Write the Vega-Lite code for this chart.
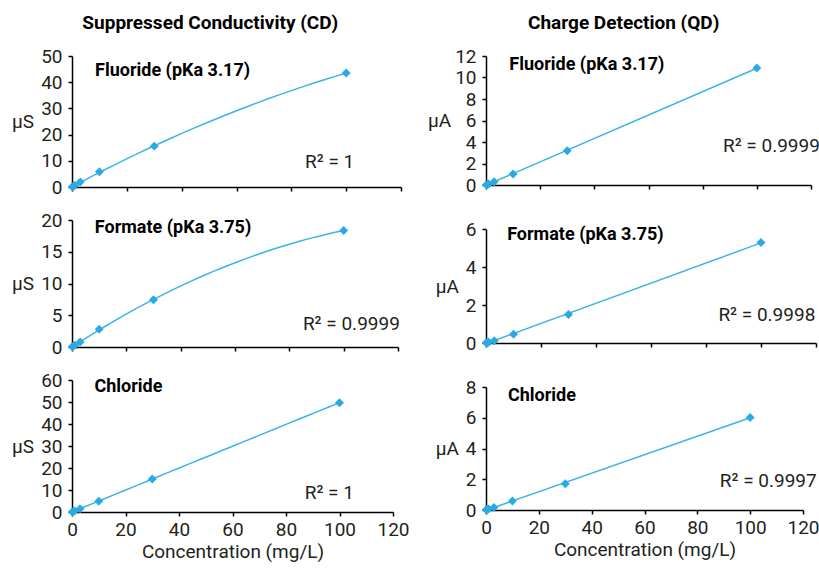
{
  "$schema": "https://vega.github.io/schema/vega-lite/v6.json",
  "background": "white",
  "padding": {"left": 11, "top": 14, "right": 0, "bottom": 5},
  "config": {
    "view": {"stroke": null},
    "font": "Roboto, sans-serif",
    "axis": {
      "grid": false,
      "domainColor": "#000000",
      "domainWidth": 1.5,
      "tickColor": "#000000",
      "tickWidth": 1.5,
      "tickSize": 4,
      "tickCount": 20,
      "labelFont": "Roboto, sans-serif",
      "labelFontSize": 19,
      "labelColor": "#231f20",
      "labelOverlap": false,
      "labelFlush": false,
      "titleFont": "Roboto, sans-serif",
      "titleFontSize": 19,
      "titleFontWeight": "normal",
      "titleColor": "#231f20",
      "labelPadding": 4
    },
    "axisY": {"titleAngle": 0, "titleAlign": "right", "titleBaseline": "middle", "titlePadding": 7, "labelPadding": 6},
    "title": {"font": "Roboto, sans-serif", "fontSize": 19, "fontWeight": "bold", "color": "#000000", "anchor": "middle"}
  },
  "spacing": 17,
  "hconcat": [
    {
      "title": {"text": "Suppressed Conductivity (CD)", "offset": 14},
      "bounds": "flush",
      "spacing": 33,
      "vconcat": [
        {
          "width": 329, "height": 131,
          "data": {"values": [
            {"conc": 0.1, "signal": 0.05}, {"conc": 0.5, "signal": 0.3}, {"conc": 1, "signal": 0.6},
            {"conc": 3, "signal": 1.9}, {"conc": 10, "signal": 5.8}, {"conc": 30, "signal": 15.6}, {"conc": 100, "signal": 43.5}
          ]},
          "layer": [
            {
              "transform": [{"regression": "signal", "on": "conc", "method": "poly", "order": 2}],
              "mark": {"type": "line", "color": "#3cb4e6", "strokeWidth": 1.5},
              "encoding": {
                "x": {"field": "conc", "type": "quantitative", "scale": {"domain": [0, 120], "nice": false}, "axis": {"values": [0, 20, 40, 60, 80, 100, 120], "format": "d", "tickCount": 20, "labels": false, "title": null}},
                "y": {"field": "signal", "type": "quantitative", "scale": {"domain": [0, 50], "nice": false}, "axis": {"values": [0, 10, 20, 30, 40, 50], "format": "d", "tickCount": 20, "title": "µS"}}
              }
            },
            {
              "mark": {"type": "point", "shape": "diamond", "filled": true, "color": "#29abe2", "size": 80, "opacity": 1},
              "encoding": {"x": {"field": "conc", "type": "quantitative"}, "y": {"field": "signal", "type": "quantitative"}}
            },
            {
              "data": {"values": [{"conc": 8.4, "signal": 44.3, "label": "Fluoride (pKa 3.17)"}]},
              "mark": {"type": "text", "align": "left", "baseline": "middle", "fontWeight": "bold", "fontSize": 18, "color": "#000000"},
              "encoding": {"x": {"field": "conc", "type": "quantitative"}, "y": {"field": "signal", "type": "quantitative"}, "text": {"field": "label"}}
            },
            {
              "data": {"values": [{"conc": 85, "signal": 9.5, "label": "R² = 1"}]},
              "mark": {"type": "text", "align": "left", "baseline": "middle", "fontSize": 19, "color": "#231f20"},
              "encoding": {"x": {"field": "conc", "type": "quantitative"}, "y": {"field": "signal", "type": "quantitative"}, "text": {"field": "label"}}
            }
          ]
        },
        {
          "width": 326, "height": 127,
          "data": {"values": [
            {"conc": 0.1, "signal": 0.03}, {"conc": 0.5, "signal": 0.14}, {"conc": 1, "signal": 0.28},
            {"conc": 3, "signal": 0.8}, {"conc": 10, "signal": 2.8}, {"conc": 30, "signal": 7.45}, {"conc": 100, "signal": 18.35}
          ]},
          "layer": [
            {
              "transform": [{"regression": "signal", "on": "conc", "method": "poly", "order": 2}],
              "mark": {"type": "line", "color": "#3cb4e6", "strokeWidth": 1.5},
              "encoding": {
                "x": {"field": "conc", "type": "quantitative", "scale": {"domain": [0, 120], "nice": false}, "axis": {"values": [0, 20, 40, 60, 80, 100, 120], "format": "d", "tickCount": 20, "labels": false, "title": null}},
                "y": {"field": "signal", "type": "quantitative", "scale": {"domain": [0, 20], "nice": false}, "axis": {"values": [0, 5, 10, 15, 20], "format": "d", "tickCount": 20, "title": "µS"}}
              }
            },
            {
              "mark": {"type": "point", "shape": "diamond", "filled": true, "color": "#29abe2", "size": 80, "opacity": 1},
              "encoding": {"x": {"field": "conc", "type": "quantitative"}, "y": {"field": "signal", "type": "quantitative"}}
            },
            {
              "data": {"values": [{"conc": 8.4, "signal": 18.8, "label": "Formate (pKa 3.75)"}]},
              "mark": {"type": "text", "align": "left", "baseline": "middle", "fontWeight": "bold", "fontSize": 18, "color": "#000000"},
              "encoding": {"x": {"field": "conc", "type": "quantitative"}, "y": {"field": "signal", "type": "quantitative"}, "text": {"field": "label"}}
            },
            {
              "data": {"values": [{"conc": 85, "signal": 3.6, "label": "R² = 0.9999"}]},
              "mark": {"type": "text", "align": "left", "baseline": "middle", "fontSize": 19, "color": "#231f20"},
              "encoding": {"x": {"field": "conc", "type": "quantitative"}, "y": {"field": "signal", "type": "quantitative"}, "text": {"field": "label"}}
            }
          ]
        },
        {
          "width": 321, "height": 132,
          "data": {"values": [
            {"conc": 0.1, "signal": 0.05}, {"conc": 0.5, "signal": 0.25}, {"conc": 1, "signal": 0.5},
            {"conc": 3, "signal": 1.5}, {"conc": 10, "signal": 4.9}, {"conc": 30, "signal": 15.0}, {"conc": 100, "signal": 49.7}
          ]},
          "layer": [
            {
              "transform": [{"regression": "signal", "on": "conc", "method": "poly", "order": 2}],
              "mark": {"type": "line", "color": "#3cb4e6", "strokeWidth": 1.5},
              "encoding": {
                "x": {"field": "conc", "type": "quantitative", "scale": {"domain": [0, 120], "nice": false}, "axis": {"values": [0, 20, 40, 60, 80, 100, 120], "format": "d", "tickCount": 20, "title": "Concentration (mg/L)", "titlePadding": 3}},
                "y": {"field": "signal", "type": "quantitative", "scale": {"domain": [0, 60], "nice": false}, "axis": {"values": [0, 10, 20, 30, 40, 50, 60], "format": "d", "tickCount": 20, "title": "µS"}}
              }
            },
            {
              "mark": {"type": "point", "shape": "diamond", "filled": true, "color": "#29abe2", "size": 80, "opacity": 1},
              "encoding": {"x": {"field": "conc", "type": "quantitative"}, "y": {"field": "signal", "type": "quantitative"}}
            },
            {
              "data": {"values": [{"conc": 8.4, "signal": 56.8, "label": "Chloride"}]},
              "mark": {"type": "text", "align": "left", "baseline": "middle", "fontWeight": "bold", "fontSize": 18, "color": "#000000"},
              "encoding": {"x": {"field": "conc", "type": "quantitative"}, "y": {"field": "signal", "type": "quantitative"}, "text": {"field": "label"}}
            },
            {
              "data": {"values": [{"conc": 87, "signal": 8.8, "label": "R² = 1"}]},
              "mark": {"type": "text", "align": "left", "baseline": "middle", "fontSize": 19, "color": "#231f20"},
              "encoding": {"x": {"field": "conc", "type": "quantitative"}, "y": {"field": "signal", "type": "quantitative"}, "text": {"field": "label"}}
            }
          ]
        }
      ]
    },
    {
      "title": {"text": "Charge Detection (QD)", "offset": 14},
      "bounds": "flush",
      "spacing": 44,
      "vconcat": [
        {
          "width": 325, "height": 129,
          "data": {"values": [
            {"conc": 0.1, "signal": 0.01}, {"conc": 0.5, "signal": 0.05}, {"conc": 1, "signal": 0.1},
            {"conc": 3, "signal": 0.31}, {"conc": 10, "signal": 1.03}, {"conc": 30, "signal": 3.18}, {"conc": 100, "signal": 10.88}
          ]},
          "layer": [
            {
              "transform": [{"regression": "signal", "on": "conc", "method": "linear"}],
              "mark": {"type": "line", "color": "#3cb4e6", "strokeWidth": 1.5},
              "encoding": {
                "x": {"field": "conc", "type": "quantitative", "scale": {"domain": [0, 120], "nice": false}, "axis": {"values": [0, 20, 40, 60, 80, 100, 120], "format": "d", "tickCount": 20, "labels": false, "title": null}},
                "y": {"field": "signal", "type": "quantitative", "scale": {"domain": [0, 12], "nice": false}, "axis": {"values": [0, 2, 4, 6, 8, 10, 12], "format": "d", "tickCount": 20, "title": "µA", "titlePadding": 4}}
              }
            },
            {
              "mark": {"type": "point", "shape": "diamond", "filled": true, "color": "#29abe2", "size": 80, "opacity": 1},
              "encoding": {"x": {"field": "conc", "type": "quantitative"}, "y": {"field": "signal", "type": "quantitative"}}
            },
            {
              "data": {"values": [{"conc": 8.6, "signal": 11.2, "label": "Fluoride (pKa 3.17)"}]},
              "mark": {"type": "text", "align": "left", "baseline": "middle", "fontWeight": "bold", "fontSize": 18, "color": "#000000"},
              "encoding": {"x": {"field": "conc", "type": "quantitative"}, "y": {"field": "signal", "type": "quantitative"}, "text": {"field": "label"}}
            },
            {
              "data": {"values": [{"conc": 87.5, "signal": 3.6, "label": "R² = 0.9999"}]},
              "mark": {"type": "text", "align": "left", "baseline": "middle", "fontSize": 19, "color": "#231f20"},
              "encoding": {"x": {"field": "conc", "type": "quantitative"}, "y": {"field": "signal", "type": "quantitative"}, "text": {"field": "label"}}
            }
          ]
        },
        {
          "width": 330, "height": 114,
          "data": {"values": [
            {"conc": 0.1, "signal": 0.01}, {"conc": 0.5, "signal": 0.02}, {"conc": 1, "signal": 0.04},
            {"conc": 3, "signal": 0.12}, {"conc": 10, "signal": 0.46}, {"conc": 30, "signal": 1.5}, {"conc": 100, "signal": 5.29}
          ]},
          "layer": [
            {
              "transform": [{"regression": "signal", "on": "conc", "method": "linear"}],
              "mark": {"type": "line", "color": "#3cb4e6", "strokeWidth": 1.5},
              "encoding": {
                "x": {"field": "conc", "type": "quantitative", "scale": {"domain": [0, 120], "nice": false}, "axis": {"values": [0, 20, 40, 60, 80, 100, 120], "format": "d", "tickCount": 20, "labels": false, "title": null}},
                "y": {"field": "signal", "type": "quantitative", "scale": {"domain": [0, 6], "nice": false}, "axis": {"values": [0, 2, 4, 6], "format": "d", "tickCount": 20, "title": "µA"}}
              }
            },
            {
              "mark": {"type": "point", "shape": "diamond", "filled": true, "color": "#29abe2", "size": 80, "opacity": 1},
              "encoding": {"x": {"field": "conc", "type": "quantitative"}, "y": {"field": "signal", "type": "quantitative"}}
            },
            {
              "data": {"values": [{"conc": 7.7, "signal": 5.7, "label": "Formate (pKa 3.75)"}]},
              "mark": {"type": "text", "align": "left", "baseline": "middle", "fontWeight": "bold", "fontSize": 18, "color": "#000000"},
              "encoding": {"x": {"field": "conc", "type": "quantitative"}, "y": {"field": "signal", "type": "quantitative"}, "text": {"field": "label"}}
            },
            {
              "data": {"values": [{"conc": 84.5, "signal": 1.49, "label": "R² = 0.9998"}]},
              "mark": {"type": "text", "align": "left", "baseline": "middle", "fontSize": 19, "color": "#231f20"},
              "encoding": {"x": {"field": "conc", "type": "quantitative"}, "y": {"field": "signal", "type": "quantitative"}, "text": {"field": "label"}}
            }
          ]
        },
        {
          "width": 317, "height": 123,
          "data": {"values": [
            {"conc": 0.1, "signal": 0.01}, {"conc": 0.5, "signal": 0.03}, {"conc": 1, "signal": 0.06},
            {"conc": 3, "signal": 0.17}, {"conc": 10, "signal": 0.58}, {"conc": 30, "signal": 1.71}, {"conc": 100, "signal": 6.02}
          ]},
          "layer": [
            {
              "transform": [{"regression": "signal", "on": "conc", "method": "linear"}],
              "mark": {"type": "line", "color": "#3cb4e6", "strokeWidth": 1.5},
              "encoding": {
                "x": {"field": "conc", "type": "quantitative", "scale": {"domain": [0, 120], "nice": false}, "axis": {"values": [0, 20, 40, 60, 80, 100, 120], "format": "d", "tickCount": 20, "title": "Concentration (mg/L)", "titlePadding": 3}},
                "y": {"field": "signal", "type": "quantitative", "scale": {"domain": [0, 8], "nice": false}, "axis": {"values": [0, 2, 4, 6, 8], "format": "d", "tickCount": 20, "title": "µA"}}
              }
            },
            {
              "mark": {"type": "point", "shape": "diamond", "filled": true, "color": "#29abe2", "size": 80, "opacity": 1},
              "encoding": {"x": {"field": "conc", "type": "quantitative"}, "y": {"field": "signal", "type": "quantitative"}}
            },
            {
              "data": {"values": [{"conc": 8.3, "signal": 7.4, "label": "Chloride"}]},
              "mark": {"type": "text", "align": "left", "baseline": "middle", "fontWeight": "bold", "fontSize": 18, "color": "#000000"},
              "encoding": {"x": {"field": "conc", "type": "quantitative"}, "y": {"field": "signal", "type": "quantitative"}, "text": {"field": "label"}}
            },
            {
              "data": {"values": [{"conc": 88.5, "signal": 1.86, "label": "R² = 0.9997"}]},
              "mark": {"type": "text", "align": "left", "baseline": "middle", "fontSize": 19, "color": "#231f20"},
              "encoding": {"x": {"field": "conc", "type": "quantitative"}, "y": {"field": "signal", "type": "quantitative"}, "text": {"field": "label"}}
            }
          ]
        }
      ]
    }
  ]
}
